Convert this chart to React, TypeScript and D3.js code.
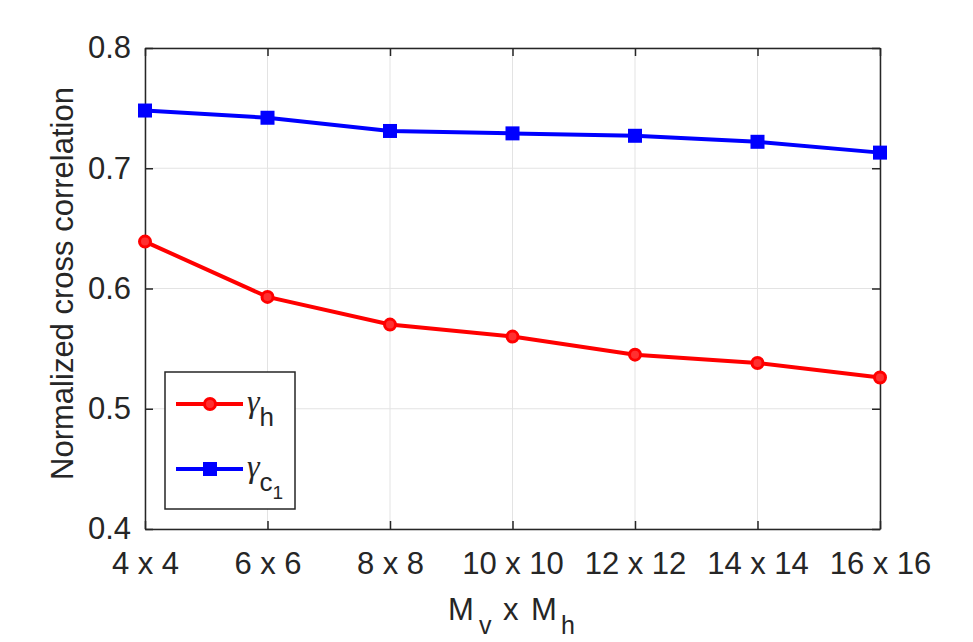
import { useEffect, useRef } from 'react';
import * as d3 from 'd3';

const categories = ['4 x 4', '6 x 6', '8 x 8', '10 x 10', '12 x 12', '14 x 14', '16 x 16'];
const gammaH = [0.639, 0.593, 0.570, 0.560, 0.545, 0.538, 0.526];
const gammaC1 = [0.748, 0.742, 0.731, 0.729, 0.727, 0.722, 0.713];
const yTicks = [0.4, 0.5, 0.6, 0.7, 0.8];

const W = 973;
const H = 642;
const M = { top: 48, right: 93, bottom: 113, left: 145 };
const FONT = '"Liberation Sans", Arial, Helvetica, sans-serif';
const SERIF = '"Liberation Serif", "Times New Roman", serif';

export default function App() {
  const svgRef = useRef<SVGSVGElement>(null);

  useEffect(() => {
    if (!svgRef.current) return;
    const svg = d3.select(svgRef.current);
    svg.selectAll('*').remove();

    const iw = W - M.left - M.right;
    const ih = H - M.top - M.bottom;
    const x = d3.scalePoint<string>().domain(categories).range([0, iw]);
    const y = d3.scaleLinear().domain([0.4, 0.8]).range([ih, 0]);

    const g = svg.append('g').attr('transform', `translate(${M.left},${M.top})`);

    // grid
    g.selectAll('.vg')
      .data(categories)
      .enter()
      .append('line')
      .attr('x1', d => x(d)!)
      .attr('x2', d => x(d)!)
      .attr('y1', 0)
      .attr('y2', ih)
      .attr('stroke', '#e3e3e3')
      .attr('stroke-width', 1);
    g.selectAll('.hg')
      .data(yTicks)
      .enter()
      .append('line')
      .attr('x1', 0)
      .attr('x2', iw)
      .attr('y1', d => y(d))
      .attr('y2', d => y(d))
      .attr('stroke', '#e3e3e3')
      .attr('stroke-width', 1);

    // axes (MATLAB style, ticks inward)
    const axColor = '#262626';
    const xAxis = g.append('g').attr('transform', `translate(0,${ih})`).call(d3.axisBottom(x).tickSizeInner(-8).tickSizeOuter(0).tickPadding(23));
    const xTop = g.append('g').call(d3.axisTop(x).tickSizeInner(-8).tickSizeOuter(0).tickFormat(() => ''));
    const yAxis = g.append('g').call(d3.axisLeft(y).tickValues(yTicks).tickFormat(d3.format('.1f')).tickSizeInner(-8).tickSizeOuter(0).tickPadding(14));
    const yRight = g.append('g').attr('transform', `translate(${iw},0)`).call(d3.axisRight(y).tickValues(yTicks).tickSizeInner(-8).tickSizeOuter(0).tickFormat(() => ''));
    [xAxis, xTop, yAxis, yRight].forEach(a => {
      a.attr('font-size', 31).attr('font-family', FONT);
      a.selectAll('path').attr('stroke', axColor).attr('stroke-width', 1.5);
      a.selectAll('line').attr('stroke', axColor).attr('stroke-width', 1.5);
      a.selectAll('text').attr('fill', axColor);
    });

    // lines
    const line = d3
      .line<number>()
      .x((_d, i) => x(categories[i])!)
      .y(d => y(d));
    g.append('path').datum(gammaH).attr('d', line).attr('fill', 'none').attr('stroke', '#ff0000').attr('stroke-width', 4);
    g.append('path').datum(gammaC1).attr('d', line).attr('fill', 'none').attr('stroke', '#0000ff').attr('stroke-width', 4);

    g.selectAll('.ch')
      .data(gammaH)
      .enter()
      .append('circle')
      .attr('cx', (_d, i) => x(categories[i])!)
      .attr('cy', d => y(d))
      .attr('r', 5.5)
      .attr('fill', '#ff3030')
      .attr('stroke', '#ff0000')
      .attr('stroke-width', 3);
    g.selectAll('.sq')
      .data(gammaC1)
      .enter()
      .append('rect')
      .attr('x', (_d, i) => x(categories[i])! - 7)
      .attr('y', d => y(d) - 7)
      .attr('width', 14)
      .attr('height', 14)
      .attr('fill', '#0000ff');

    // axis labels
    svg
      .append('text')
      .attr('transform', `translate(73,${M.top + ih / 2 - 5}) rotate(-90)`)
      .attr('text-anchor', 'middle')
      .attr('font-size', 31)
      .attr('font-family', FONT)
      .attr('fill', axColor)
      .text('Normalized cross correlation');

    const xl = svg
      .append('text')
      .attr('y', 620)
      .attr('font-size', 31)
      .attr('font-family', FONT)
      .attr('fill', axColor);
    xl.append('tspan').attr('x', 448).text('M');
    xl.append('tspan').attr('x', 479).attr('dy', 14).attr('font-size', 25).text('v');
    xl.append('tspan').attr('x', 503).attr('dy', -14).text('x');
    xl.append('tspan').attr('x', 531).text('M');
    xl.append('tspan').attr('x', 561).attr('dy', 14).attr('font-size', 25).text('h');

    // legend
    const lg = svg.append('g').attr('transform', 'translate(165,372)');
    lg.append('rect').attr('width', 130).attr('height', 137).attr('fill', '#ffffff').attr('stroke', axColor).attr('stroke-width', 1.5);
    const items = [
      { color: '#ff0000', shape: 'circle', sub: 'h', subsub: '' },
      { color: '#0000ff', shape: 'square', sub: 'c', subsub: '1' },
    ];
    items.forEach((it, i) => {
      const yy = 32 + i * 65;
      lg.append('line').attr('x1', 11).attr('x2', 78).attr('y1', yy).attr('y2', yy).attr('stroke', it.color).attr('stroke-width', 4);
      if (it.shape === 'circle') {
        lg.append('circle').attr('cx', 45).attr('cy', yy).attr('r', 5.5).attr('fill', '#ff3030').attr('stroke', it.color).attr('stroke-width', 3);
      } else {
        lg.append('rect').attr('x', 38).attr('y', yy - 7).attr('width', 14).attr('height', 14).attr('fill', it.color);
      }
      const t = lg.append('text').attr('x', 82).attr('y', yy + 8).attr('fill', axColor);
      t.append('tspan').attr('font-size', 32).attr('font-family', SERIF).attr('font-style', 'italic').text('\u03b3');
      t.append('tspan').attr('dy', 14).attr('font-size', 26).attr('font-family', FONT).text(it.sub);
      if (it.subsub) t.append('tspan').attr('dy', 8).attr('font-size', 19).attr('font-family', FONT).text(it.subsub);
    });
  }, []);

  return (
    <svg
      ref={svgRef}
      width={W}
      height={H}
      style={{ position: 'absolute', left: 0, top: 0, background: '#ffffff', display: 'block' }}
    />
  );
}
